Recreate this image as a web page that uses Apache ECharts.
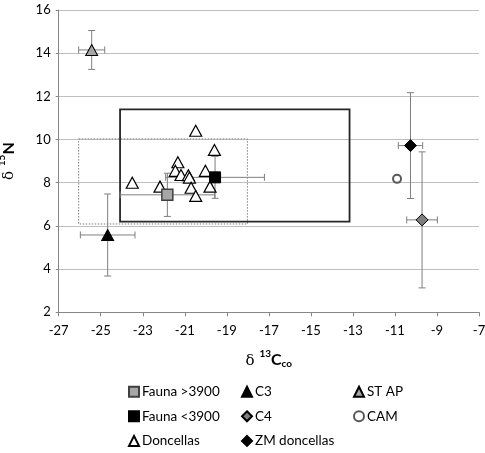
<!DOCTYPE html>
<html><head><meta charset="utf-8">
<script src="https://cdn.jsdelivr.net/npm/echarts@6/dist/echarts.min.js"></script>
<style>html,body{margin:0;padding:0;background:#fff}#c{width:485px;height:453px}</style>
</head><body><div id="c"></div>
<script>
// ---- data (x = δ13C, y = δ15N) ----
const faunaOld = [-21.83, 7.44];      const faunaOldErr = [2.25, 1.00];
const faunaNew = [-19.56, 8.25];      const faunaNewErr = [2.35, 0.97];
const c3 = [-24.67, 5.58];            const c3Err = [1.30, 1.90];
const c4 = [-9.71, 6.28];             const c4Err = [0.73, 3.15];
const stap = [-25.43, 14.15];         const stapErr = [0.62, 0.90];
const cam = [-10.90, 8.18];
const zm = [-10.26, 9.72];            const zmErr = [0.58, 2.45];
const doncellasX = [-23.50, -20.48, -19.59, -21.33, -21.45, -21.18, -20.83, -20.78, -20.02, -22.18, -20.70, -19.80, -20.48];
const doncellasY = [8.00, 10.41, 9.52, 8.95, 8.55, 8.36, 8.35, 8.24, 8.55, 7.82, 7.77, 7.82, 7.39];
const boxSolid = [-24.08, 6.20, -13.16, 11.40];
const boxDotted = [-26.05, 6.09, -18.02, 10.03];
const xMin = -27, xMax = -7, xStep = 2;
const yMin = 2, yMax = 16, yStep = 2;

const errorData = [
  [...faunaOld, ...faunaOldErr],
  [...faunaNew, ...faunaNewErr],
  [...c3, ...c3Err],
  [...c4, ...c4Err],
  [...stap, ...stapErr],
  [...zm, ...zmErr]
];
const doncellas = doncellasX.map((x, i) => [x, doncellasY[i]]);

const chart = echarts.init(document.getElementById('c'));
const FONT = 'Lato';
const CAP = 3.5;

function boxRender(style) {
  return function (params, api) {
    const p1 = api.coord([api.value(0), api.value(1)]);
    const p2 = api.coord([api.value(2), api.value(3)]);
    return {
      type: 'rect',
      shape: { x: Math.min(p1[0], p2[0]), y: Math.min(p1[1], p2[1]),
               width: Math.abs(p2[0] - p1[0]), height: Math.abs(p2[1] - p1[1]) },
      style: Object.assign({ fill: 'none' }, style)
    };
  };
}

function errRender(params, api) {
  const x = api.value(0), y = api.value(1), ex = api.value(2), ey = api.value(3);
  const st = { stroke: '#7f7f7f', lineWidth: 1, fill: 'none' };
  const ch = [];
  if (ex > 0) {
    const a = api.coord([x - ex, y]), b = api.coord([x + ex, y]);
    ch.push({ type: 'line', shape: { x1: a[0], y1: a[1], x2: b[0], y2: b[1] }, style: st });
    ch.push({ type: 'line', shape: { x1: a[0], y1: a[1] - CAP, x2: a[0], y2: a[1] + CAP }, style: st });
    ch.push({ type: 'line', shape: { x1: b[0], y1: b[1] - CAP, x2: b[0], y2: b[1] + CAP }, style: st });
  }
  if (ey > 0) {
    const a = api.coord([x, y - ey]), b = api.coord([x, y + ey]);
    ch.push({ type: 'line', shape: { x1: a[0], y1: a[1], x2: b[0], y2: b[1] }, style: st });
    ch.push({ type: 'line', shape: { x1: a[0] - CAP, y1: a[1], x2: a[0] + CAP, y2: a[1] }, style: st });
    ch.push({ type: 'line', shape: { x1: b[0] - CAP, y1: b[1], x2: b[0] + CAP, y2: b[1] }, style: st });
  }
  return { type: 'group', children: ch };
}

const legendText = { fontFamily: FONT, fontSize: 13.5, lineHeight: 14, color: '#000', padding: [0, 0, 0, -2] };
function legend(left, names) {
  return { orient: 'vertical', left: left, top: 384.7, height: 70, itemWidth: 10, itemHeight: 10,
           itemGap: 10.6, textStyle: legendText, data: names, selectedMode: false,
           padding: 0 };
}

chart.setOption({
  animation: false,
  backgroundColor: '#fff',
  grid: { left: 58.7, right: 6, top: 10, bottom: 140.7, containLabel: false, outerBoundsMode: 'none' },
  xAxis: {
    type: 'value', min: xMin, max: xMax, interval: xStep,
    name: '{d|δ }{s|13}{b|C}{u|co}', nameLocation: 'middle', nameGap: 36,
    nameTextStyle: {
      rich: {
        d: { fontFamily: 'DejaVu Serif', fontSize: 15, color: '#000', lineHeight: 20, verticalAlign: 'bottom' },
        s: { fontFamily: FONT, fontWeight: 'bold', fontSize: 10, color: '#000', lineHeight: 10, verticalAlign: 'top' },
        b: { fontFamily: FONT, fontWeight: 'bold', fontSize: 16, color: '#000', lineHeight: 20, verticalAlign: 'bottom' },
        u: { fontFamily: FONT, fontWeight: 'bold', fontSize: 10, color: '#000', lineHeight: 10, verticalAlign: 'bottom' }
      }
    },
    axisLine: { show: true, onZero: false, lineStyle: { color: '#868686', width: 1 } },
    axisTick: { show: true, length: 4, lineStyle: { color: '#868686' } },
    axisLabel: { fontFamily: FONT, fontSize: 13, color: '#000', margin: 12, showMinLabel: true, showMaxLabel: true },
    splitLine: { show: false }
  },
  yAxis: {
    type: 'value', min: yMin, max: yMax, interval: yStep,
    name: '{d|δ }{s|15}{b|N}', nameLocation: 'middle', nameGap: 42, nameRotate: 90,
    nameTextStyle: {
      rich: {
        d: { fontFamily: 'DejaVu Serif', fontSize: 15, color: '#000', lineHeight: 20, verticalAlign: 'bottom' },
        s: { fontFamily: FONT, fontWeight: 'bold', fontSize: 10, color: '#000', lineHeight: 10, verticalAlign: 'top' },
        b: { fontFamily: FONT, fontWeight: 'bold', fontSize: 16, color: '#000', lineHeight: 20, verticalAlign: 'bottom' }
      }
    },
    axisLine: { show: true, onZero: false, lineStyle: { color: '#868686', width: 1 } },
    axisTick: { show: true, length: 3, lineStyle: { color: '#868686' } },
    axisLabel: { fontFamily: FONT, fontSize: 13, color: '#000', margin: 8 },
    splitLine: { show: true, lineStyle: { color: '#bfbfbf', width: 1 } }
  },
  legend: [
    legend(128, ['Fauna >3900', 'Fauna <3900', 'Doncellas']),
    legend(241, ['C3', 'C4', 'ZM doncellas']),
    legend(353, ['ST AP', 'CAM'])
  ],
  series: [
    { type: 'custom', name: 'boxDotted', z: 1, silent: true, renderItem: boxRender({ stroke: '#7f7f7f', lineWidth: 1, lineDash: [1.5, 1.5] }),
      encode: { x: [0, 2], y: [1, 3] }, data: [boxDotted] },
    { type: 'custom', name: 'boxSolid', z: 1, silent: true, renderItem: boxRender({ stroke: '#262626', lineWidth: 1.8 }),
      encode: { x: [0, 2], y: [1, 3] }, data: [boxSolid] },
    { type: 'custom', name: 'errors', z: 2, silent: true, renderItem: errRender,
      encode: { x: 0, y: 1 }, data: errorData },
    { type: 'scatter', name: 'Doncellas', z: 3, symbol: 'triangle', symbolSize: [12, 11],
      itemStyle: { color: '#fff', borderColor: '#000', borderWidth: 1.2, opacity: 1 }, data: doncellas },
    { type: 'scatter', name: 'Fauna >3900', z: 4, symbol: 'rect', symbolSize: 11,
      itemStyle: { color: '#a6a6a6', borderColor: '#404040', borderWidth: 1.5, opacity: 1 }, data: [faunaOld] },
    { type: 'scatter', name: 'Fauna <3900', z: 4, symbol: 'rect', symbolSize: 11,
      itemStyle: { color: '#000', borderColor: '#000', borderWidth: 1, opacity: 1 }, data: [faunaNew] },
    { type: 'scatter', name: 'C3', z: 4, symbol: 'triangle', symbolSize: [12, 11],
      itemStyle: { color: '#000', borderColor: '#000', borderWidth: 1, opacity: 1 }, data: [c3] },
    { type: 'scatter', name: 'C4', z: 4, symbol: 'diamond', symbolSize: 12,
      itemStyle: { color: '#7f7f7f', borderColor: '#000', borderWidth: 1, opacity: 1 }, data: [c4] },
    { type: 'scatter', name: 'ST AP', z: 4, symbol: 'triangle', symbolSize: [12, 11],
      itemStyle: { color: '#a6a6a6', borderColor: '#000', borderWidth: 1, opacity: 1 }, data: [stap] },
    { type: 'scatter', name: 'CAM', z: 4, symbol: 'circle', symbolSize: 8,
      itemStyle: { color: '#fff', borderColor: '#595959', borderWidth: 2, opacity: 1 }, data: [cam] },
    { type: 'scatter', name: 'ZM doncellas', z: 4, symbol: 'diamond', symbolSize: 12,
      itemStyle: { color: '#000', borderColor: '#000', borderWidth: 1, opacity: 1 }, data: [zm] }
  ]
});
</script></body></html>
